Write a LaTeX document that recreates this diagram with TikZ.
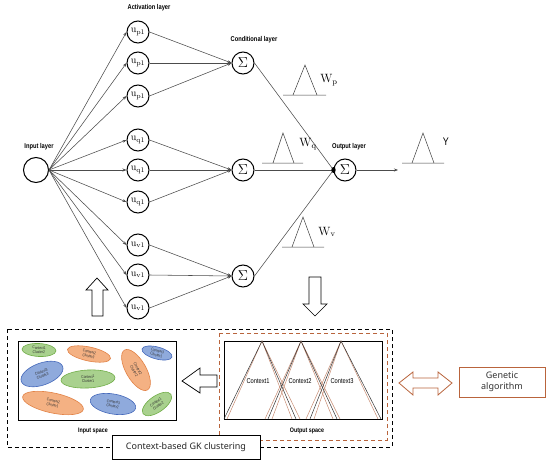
\documentclass[tikz,border=0pt]{standalone}
\usepackage{fontspec}
\usetikzlibrary{arrows.meta,shapes.geometric}
\newfontfamily\labfont{Liberation Sans}[FakeStretch=0.82]
\newfontfamily\gothfont{Noto Sans}
\definecolor{gfill}{RGB}{169,209,142}
\definecolor{gdraw}{RGB}{112,173,71}
\definecolor{ofill}{RGB}{244,177,131}
\definecolor{odraw}{RGB}{226,130,70}
\definecolor{bfill}{RGB}{143,170,220}
\definecolor{bdraw}{RGB}{68,104,186}
\definecolor{brn}{RGB}{185,100,60}
\definecolor{brnl}{RGB}{200,140,115}
\begin{document}
\begin{tikzpicture}[x=1pt,y=-1pt,
  neuron/.style={circle,draw,line width=1pt,minimum size=22pt,inner sep=0pt,font=\fontsize{10}{10}\selectfont},
  sumnode/.style={neuron,font=\fontsize{14}{14}\selectfont},
  layerlab/.style={font=\labfont\bfseries\fontsize{7}{7}\selectfont},
  conn/.style={draw=black!70,line width=0.55pt},
  tip/.style={-{Stealth[length=4pt,width=3pt]}},
  ell/.style={ellipse,inner sep=0pt,line width=0.6pt,align=center,font=\labfont\fontsize{4}{4.3}\selectfont,text=black!80},
  blockarrow/.style={draw,line width=0.7pt,fill=white},
  ctx/.style={font=\labfont\fontsize{7}{7}\selectfont},
]
\useasboundingbox (0,0) rectangle (550,463);
\fill[white] (0,0) rectangle (550,463);

% ---------- network ----------
\node[circle,draw,line width=1pt,minimum width=23pt,minimum height=25pt,inner sep=0pt] (in) at (36,170) {};
\foreach \n/\y/\s in {a1/32/p,a2/63/p,a3/96/p,a4/140/q,a5/170/q,a6/202/q,a7/245/v,a8/275/v,a9/308/v}
  \node[neuron] (\n) at (138,\y) {$\mathrm{u}_{\mathrm{\s1}}$};
\node[sumnode] (c1) at (243,63) {$\Sigma$};
\node[sumnode] (c2) at (243,170) {$\Sigma$};
\node[sumnode] (c3) at (243,276) {$\Sigma$};
\node[sumnode] (out) at (345,170) {$\Sigma$};
\coordinate (yend) at (398,170);

\node[layerlab] (labA) at (149,8) {Activation layer};
\node[layerlab] (labC) at (254,40) {Conditional layer};
\node[layerlab] (labI) at (39,147) {Input layer};
\node[layerlab] (labO) at (349,147) {Output layer};

\foreach \n in {a1,a2,a3,a4,a5,a6,a7,a8,a9}
  \draw[conn,tip] (in.east) -- (\n.west);
\foreach \n in {a1,a2,a3} \draw[conn,tip] (\n.east) -- (c1.west);
\foreach \n in {a4,a5,a6} \draw[conn,tip] (\n.east) -- (c2.west);
\foreach \n in {a7,a8,a9} \draw[conn,tip] (\n.east) -- (c3.west);
\foreach \n in {c1,c2,c3} \draw[conn] (\n.east) -- (out.west);
\fill (out.west) ellipse (2.2pt and 3pt);
\draw[conn,-{Stealth[length=4pt,width=3pt]}] (out.east) -- (yend);

% membership triangles
\draw[black!75,line width=0.5pt] (283,95) -- (326,95) (293,95) -- (305,65) -- (317,95);
\node[font=\fontsize{12}{12}\selectfont] (wp) at (329,80) {$\mathrm{W}_{\mathrm{p}}$};
\draw[black!75,line width=0.5pt] (262,163) -- (303,163) (273,163) -- (283,133) -- (294,163);
\node[font=\fontsize{12}{12}\selectfont] (wq) at (308,144) {$\mathrm{W}_{\mathrm{q}}$};
\draw[black!75,line width=0.5pt] (282,247) -- (324,247) (292,247) -- (303,217) -- (314,247);
\node[font=\fontsize{12}{12}\selectfont] (wv) at (327,232) {$\mathrm{W}_{\mathrm{v}}$};
\draw[black!75,line width=0.5pt] (402,163) -- (444,163) (412,163) -- (423,133) -- (434,163);
\node[font=\labfont\fontsize{11}{11}\selectfont] (yl) at (446,142) {Y};

% block arrows up / down
\draw[blockarrow] (92,316) -- (103,316) -- (103,290) -- (108,290) -- (97,278) -- (86,290) -- (92,290) -- cycle;
\draw[blockarrow] (309,277) -- (321,277) -- (321,304) -- (327,304) -- (315,316) -- (303,304) -- (309,304) -- cycle;

% ---------- bottom part ----------
\draw[dashed,line width=0.9pt,dash pattern=on 4pt off 3pt] (7,329) rectangle (392,447);
\draw[line width=0.9pt] (18,341) rectangle (176,420);
\node[layerlab,font=\labfont\bfseries\fontsize{6.5}{6.5}\selectfont] (lin) at (93,431) {Input space};

\node[ell,fill=gfill,draw=gdraw,minimum width=34pt,minimum height=13pt,rotate=-3] (e1) at (39,350) {Context1\\Cluster2};
\node[ell,fill=ofill,draw=odraw,minimum width=44pt,minimum height=14pt,rotate=-12] (e2) at (89,354) {Context2\\Cluster3};
\node[ell,fill=bfill,draw=bdraw,minimum width=44pt,minimum height=22pt,rotate=20] (e3) at (42,374) {Context3\\Cluster3};
\node[ell,fill=gfill,draw=gdraw,minimum width=54pt,minimum height=18pt,rotate=3] (e4) at (88,379) {Context1\\Cluster1};
\node[ell,fill=ofill,draw=odraw,minimum width=46pt,minimum height=20pt,rotate=-60] (e5) at (136,370) {Context2\\Cluster2};
\node[ell,fill=bfill,draw=bdraw,minimum width=31pt,minimum height=12pt,rotate=-15] (e6) at (157,353) {Context3\\Cluster1};
\node[ell,fill=ofill,draw=odraw,minimum width=62pt,minimum height=20pt,rotate=-12] (e7) at (53,403) {Context2\\Cluster1};
\node[ell,fill=bfill,draw=bdraw,minimum width=46pt,minimum height=20pt,rotate=-10] (e8) at (113,404) {Context3\\Cluster2};
\node[ell,fill=gfill,draw=gdraw,minimum width=34pt,minimum height=16pt,rotate=35] (e9) at (157,404) {Context1\\Cluster2};

% left block arrow
\draw[blockarrow] (217,375) -- (200,375) -- (200,368) -- (182,381) -- (200,393) -- (200,387) -- (217,387) -- cycle;

% output space
\draw[brn,dashed,line width=0.8pt,dash pattern=on 4pt off 3pt] (219,333) rectangle (387,440);
\draw[line width=0.9pt] (224,341) rectangle (382,419);
\draw[brnl,line width=0.5pt] (227,419) -- (262,341) -- (292,419) (262,341) -- (300,419);
\draw[brnl,line width=0.5pt] (265,419) -- (301,341) -- (333,419) (272,419) -- (301,341) -- (340,419);
\draw[brnl,line width=0.5pt] (306,419) -- (341,341) -- (378,419) (314,419) -- (341,341);
\draw[black!80,line width=0.5pt] (224,419) -- (262,341) -- (296,419);
\draw[black!80,line width=0.5pt] (268,419) -- (301,341) -- (337,419);
\draw[black!80,line width=0.5pt] (310,419) -- (341,341) -- (381,419);
\node[ctx,fill=white,inner sep=0.5pt] (k1) at (258,381) {Context1};
\node[ctx,fill=white,inner sep=0.5pt] (k2) at (300,381) {Context2};
\node[ctx,fill=white,inner sep=0.5pt] (k3) at (342,381) {Context3};
\node[layerlab,font=\labfont\bfseries\fontsize{6.5}{6.5}\selectfont] (lout) at (307,431) {Output space};

% GK clustering label box
\node[draw,line width=0.8pt,fill=white,minimum width=148pt,minimum height=24pt,inner sep=0pt,font=\gothfont\fontsize{9}{9}\selectfont,text=black!85] (gk) at (186,447) {Context-based GK clustering};

% double arrow
\draw[brn,line width=0.8pt,fill=white] (399,383) -- (413,372) -- (413,378) -- (438,378) -- (438,372) -- (452,383) -- (438,395) -- (438,388) -- (413,388) -- (413,395) -- cycle;

% genetic algorithm box
\node[draw=brn,line width=0.9pt,minimum width=86pt,minimum height=30pt,inner sep=0pt,align=center,font=\gothfont\fontsize{9}{11}\selectfont,text=black!80] (ga) at (502,382) {Genetic\\algorithm};
\end{tikzpicture}
\end{document}
